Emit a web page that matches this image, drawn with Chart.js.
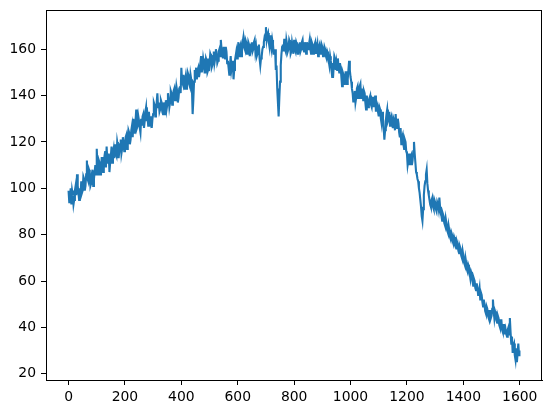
<!DOCTYPE html>
<html>
<head>
<meta charset="utf-8">
<script src="https://cdn.jsdelivr.net/npm/chart.js@4/dist/chart.umd.min.js"></script>
<style>
html,body{margin:0;padding:0;background:#fff;}
canvas{display:block;}
</style>
</head>
<body>
<canvas id="c" width="552" height="413"></canvas>
<script>
// Values: samples at x = 0,5,10,...,1595 and the last at 1599
const sampleValues = [
  99, 96, 93, 97, 95, 101, 106, 98, 100, 103,
  99, 104, 101, 112, 103, 107, 102, 108, 104, 110,
  117, 106, 111, 108, 113, 110, 116, 118, 111, 107,
  114, 111, 117, 119, 114, 118, 116, 121, 117, 120,
  118, 123, 119, 124, 121, 127, 130, 125, 134, 127,
  129, 124, 127, 132, 129, 135, 131, 133, 128, 126,
  132, 136, 133, 141, 137, 134, 137, 132, 135, 138,
  136, 139, 137, 141, 138, 143, 140, 142, 139, 144,
  152, 145, 143, 148, 145, 149, 144, 147, 132, 146,
  149, 147, 152, 150, 157, 152, 154, 150, 155, 151,
  154, 157, 153, 159, 156, 158, 155, 160, 164, 158,
  161, 156, 159, 155, 149, 157, 153, 147, 155, 159,
  160, 157, 162, 159, 165, 160, 163, 158, 162, 159,
  163, 160, 164, 161, 158, 162, 153, 157, 161, 165,
  169.5, 166, 163, 166, 160, 162, 158, 151, 143, 131,
  146, 158, 162, 164.5, 159, 162, 160, 163, 159, 161,
  164, 159, 162, 158, 163, 160, 164, 159, 161, 163,
  160, 164, 158, 162, 159, 163, 160, 157, 162, 159,
  161, 158, 160, 156, 158, 153, 155, 148, 152, 156,
  154, 156, 150, 152, 144, 149, 146, 150, 147, 155,
  148, 143, 137, 142, 139, 144, 141, 145, 140, 138,
  141, 134, 138, 136, 140, 135, 139, 137, 133, 136,
  131, 134, 128, 130, 121, 129, 134, 130, 127, 131,
  126, 129, 132, 126, 128, 122, 119, 123, 117, 120,
  115, 112, 110, 114, 112, 120, 111, 106, 103, 98,
  92, 86, 97, 103, 108, 99, 95, 92, 96, 91,
  94, 90, 93, 96, 89, 86, 88, 84, 85, 81,
  82, 78, 80, 76, 78, 74, 76, 72, 74, 70,
  71, 67, 68, 64, 66, 61, 63, 58, 60, 56,
  57, 55, 52, 54, 49, 50, 46, 48, 44, 47,
  45, 52, 44, 46, 42, 44, 40, 43, 38, 41,
  39, 36, 40, 44, 33, 29, 33, 26, 25, 33,
  30
];

// Values at the in-between positions x = 2.5, 7.5, ..., 1597.5
const midValues = [
  94, 100, 99, 93, 99, 97, 101, 95, 97, 98,
  105, 99, 106, 104, 108, 101, 106, 101, 107, 106,
  109, 112, 106, 113, 107, 114, 109, 112, 115, 111,
  118, 115, 113, 115, 120, 113, 119, 115, 122, 116,
  122, 117, 125, 119, 125, 122, 124, 129, 126, 131,
  126, 130, 131, 126, 133, 129, 127, 129, 131, 130,
  137, 131, 137, 135, 133, 138, 133, 137, 132, 134,
  141, 135, 142, 136, 142, 138, 144, 137, 143, 141,
  146, 149, 146, 143, 150, 145, 149, 143, 138, 151,
  152, 151, 148, 154, 150, 156, 150, 156, 150, 156,
  158, 152, 157, 154, 160, 154, 159, 157, 160, 156,
  157, 161, 154, 152, 153, 151, 155, 151, 157, 156,
  163, 161, 157, 163, 161, 164, 158, 163, 157, 162,
  159, 163, 159, 157, 161, 156, 156, 160, 163, 164,
  164, 167, 161, 162, 164, 158, 160, 153, 137, 139,
  153, 161, 159, 160, 164, 159, 164, 158, 163, 158,
  160, 163, 158, 162, 159, 163, 160, 163, 158, 161,
  162, 160, 163, 158, 162, 158, 162, 161, 158, 162,
  157, 161, 157, 159, 155, 157, 151, 154, 157, 151,
  151, 152, 154, 148, 150, 145, 150, 145, 151, 151,
  146, 141, 140, 137, 143, 139, 144, 139, 143, 142,
  137, 140, 135, 139, 136, 139, 135, 140, 137, 133,
  135, 130, 133, 126, 125, 132, 129, 133, 130, 128,
  130, 125, 127, 130, 124, 126, 122, 119, 121, 116,
  110, 115, 113, 110, 116, 115, 107, 104, 100, 95,
  88, 91, 101, 106, 102, 97, 93, 95, 92, 95,
  91, 94, 91, 92, 88, 89, 85, 87, 82, 84,
  79, 81, 77, 79, 75, 77, 73, 75, 71, 73,
  68, 70, 65, 67, 63, 64, 60, 61, 57, 59,
  54, 57, 55, 51, 52, 47, 49, 45, 47, 44,
  48, 47, 47, 43, 45, 41, 43, 39, 41, 37,
  37, 39, 37, 38, 36, 32, 28, 31, 29, 28
];

const xTicks = [0, 200, 400, 600, 800, 1000, 1200, 1400, 1600];
const yTicks = [20, 40, 60, 80, 100, 120, 140, 160];

const points = [];
for (let i = 0; i < midValues.length; i++) {
  points.push({ x: i * 5, y: sampleValues[i] });
  points.push({ x: i * 5 + 2.5, y: midValues[i] });
}
points.push({ x: 1599, y: sampleValues[sampleValues.length - 1] });

const frame = {
  id: 'frame',
  afterDraw(chart) {
    const a = chart.chartArea;
    const ctx = chart.ctx;
    ctx.save();
    ctx.strokeStyle = '#000';
    ctx.lineWidth = 1;
    ctx.strokeRect(Math.round(a.left) + 0.5, Math.round(a.top) + 0.5,
                   Math.round(a.right - a.left) - 1, Math.round(a.bottom - a.top));
    ctx.restore();
  }
};

const tickFont = { family: 'DejaVu Sans', size: 13.9 };

new Chart(document.getElementById('c'), {
  type: 'line',
  data: {
    datasets: [{
      data: points,
      borderColor: '#1f77b4',
      borderWidth: 2.1,
      pointRadius: 0,
      tension: 0,
      fill: false
    }]
  },
  options: {
    responsive: false,
    animation: false,
    devicePixelRatio: 1,
    layout: { padding: { top: 10, right: 10, left: 0, bottom: 0 } },
    plugins: { legend: { display: false }, tooltip: { enabled: false } },
    scales: {
      x: {
        type: 'linear',
        min: -80,
        max: 1679,
        afterBuildTicks: s => { s.ticks = xTicks.map(v => ({ value: v })); },
        afterFit: s => { s.height = 33; s.paddingLeft = 0; s.paddingRight = 0; },
        grid: { display: true, drawOnChartArea: false, drawTicks: true, tickLength: 5, tickColor: '#000', tickWidth: 1 },
        border: { display: true, color: '#000', width: 1 },
        ticks: { color: '#000', font: tickFont, padding: 4, maxRotation: 0, autoSkip: false, callback: v => String(v) }
      },
      y: {
        type: 'linear',
        min: 17.3,
        max: 176.9,
        afterBuildTicks: s => { s.ticks = yTicks.map(v => ({ value: v })); },
        afterFit: s => { s.width = 46; s.paddingTop = 0; s.paddingBottom = 0; },
        grid: { display: true, drawOnChartArea: false, drawTicks: true, tickLength: 5, tickColor: '#000', tickWidth: 1 },
        border: { display: true, color: '#000', width: 1 },
        ticks: { color: '#000', font: tickFont, padding: 5, autoSkip: false, callback: v => String(v) }
      }
    }
  },
  plugins: [frame]
});
</script>
</body>
</html>
